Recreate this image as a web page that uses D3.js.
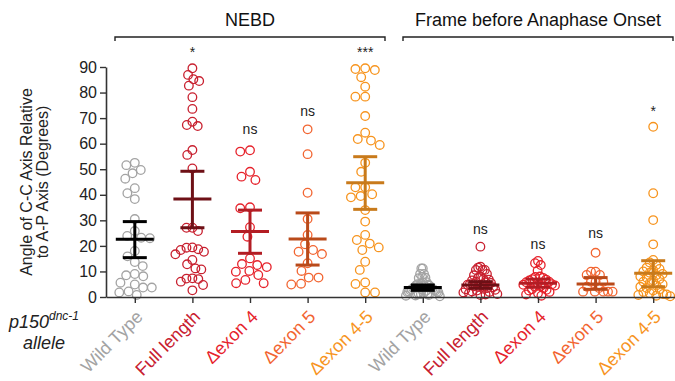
<!DOCTYPE html>
<html>
<head>
<meta charset="utf-8">
<script src="https://cdn.jsdelivr.net/npm/d3@7"></script>
<style>
  body { margin: 0; background: #fff; }
  svg { display: block; font-family: "Liberation Sans", Arial, sans-serif; }
</style>
</head>
<body>
<div id="chart"></div>
<script>
// categories
const phases = ['NEBD', 'Frame before Anaphase Onset'];
const alleles = ['Wild Type', 'Full length', '\u0394exon 4', '\u0394exon 5', '\u0394exon 4-5'];
const yTicks = [0, 10, 20, 30, 40, 50, 60, 70, 80, 90];

// angle values (degrees)
const nebdWT = [51.6, 52.5, 49.7, 48.4, 46.3, 42.6, 40.6, 38.3, 30.5, 23.9, 23, 23.2, 25.8,
  18, 15.9, 13.7, 12.1, 8.5, 8.1, 9, 5.6, 4.9, 3.7, 3.7, 2.2, 1.8, 0.8];
const nebdFL = [89.5, 85.2, 86.9, 84.5, 82.7, 78.2, 73.6, 67.3, 66.9, 68.6, 55.6, 57.5, 50.3,
  27.1, 27.1, 25.8, 18.7, 19.4, 17.7, 19.3, 18.4, 16.7, 14.5, 12.8, 11.2, 10.8, 6, 7.2, 7,
  7.3, 4.7, 2.6];
const nebdE4 = [56.9, 57.4, 47.1, 45.8, 49, 35.1, 34.7, 27.3, 23.6, 15.1, 12.5, 10.2, 9.9,
  11.7, 12.9, 8.6, 6.7, 5.4, 5.4];
const nebdE5 = [65.6, 55.9, 40.8, 30.5, 24.3, 20.6, 18.4, 17.7, 16.8, 13.2, 10.2, 7.6, 7.6,
  4.9, 5.2];
const nebdE45 = [89.5, 88.8, 86, 89.2, 82.3, 78.4, 78.4, 70.8, 64.3, 61.2, 59.5, 61.8, 52.5,
  49, 42.9, 42.9, 40.2, 39, 39.5, 34, 29.5, 24.3, 22.3, 20.9, 18.4, 19.4, 13.8, 10.6, 5.1,
  5.7, 1.8, 1.8];

const anaWT = [11.2, 11.2, 9, 9, 7.8, 7.6, 7.4, 5.8, 5.5, 5.2, 5, 4.8, 4.6, 4.4, 4.2, 4,
  3.8, 3.6, 3.4, 3.2, 3, 2.9, 2.8, 2.6, 2.5, 2.4, 2.2, 2.1, 2, 1.8, 1.6, 1.5, 1.2, 1.1, 1,
  0.8, 0.6, 0.5, 0.3];
const anaFL = [19.7, 11.9, 11.5, 10.6, 10.6, 10.6, 9, 8.5, 8, 7.5, 7, 6.8, 6.5, 6, 5.8, 5.5,
  5, 4.8, 4.5, 4.2, 4, 3.8, 3.5, 3.2, 3, 2.8, 2.5, 2.2, 2, 1.8, 1.5, 1.2, 1, 0.8];
const anaE4 = [14.1, 13.2, 12.5, 10.3, 8, 7.8, 7.5, 7, 6.8, 6.5, 6, 5.8, 5.5, 5, 4.8, 4.5,
  4.2, 4, 3.5, 3, 2.8, 2.5, 2, 1.5, 1, 0.5];
const anaE5 = [17.3, 9.9, 9.9, 8.6, 8.6, 6, 6, 6, 4, 3.5, 2.1, 2.1, 2.1, 2.1, 2.1];
const anaE45 = [66.6, 40.6, 30.1, 20.6, 14.5, 13.5, 12.5, 11.5, 11, 10.5, 10, 9.5, 9, 8.5,
  8, 7.5, 7, 6.5, 6, 5.5, 5, 4.5, 4, 3.5, 3, 2.5, 2, 1.5, 1.2, 1, 0.8, 0.5, 0.3];

// mean and 95% CI as drawn
const means = [22.6, 38.3, 25.6, 22.7, 44.7, 3.7, 4.7, 5.4, 5.1, 9.3];
const ciLow = [15.4, 27.1, 17.1, 12.5, 34.3, 2.6, 3.4, 3.8, 3.0, 4.0];
const ciHigh = [29.5, 49.2, 34.0, 32.9, 54.9, 4.7, 6.0, 7.0, 7.6, 14.2];

// significance marks and the height (degrees) they sit at
const sigText = ['', '*', 'ns', 'ns', '***', '', 'ns', 'ns', 'ns', '*'];
const sigAt = [0, 93.9, 63.8, 70.8, 93.9, 0, 24.6, 18.8, 23.1, 70.8];

const values = [nebdWT, nebdFL, nebdE4, nebdE5, nebdE45, anaWT, anaFL, anaE4, anaE5, anaE45];

const pointColors = ['#a3a3a3', '#c8202f', '#e6222b', '#f26531', '#f7941e'];
const barColors = ['#000000', '#6e1016', '#b31d24', '#b94a1a', '#c87a1b'];

const width = 675;
const height = 381;
const R = 4.3;

const groups = [];
phases.forEach((p, pi) => alleles.forEach((a, ai) => {
  groups.push({ key: pi + ':' + a, phase: pi, allele: ai, label: a });
}));

const svg = d3.select('#chart')
  .append('svg')
  .attr('width', width)
  .attr('height', height);

const x = d3.scalePoint()
  .domain(groups.map(g => g.key))
  .range([106, 682])
  .padding(0.5);

const y = d3.scaleLinear()
  .domain([0, 90])
  .range([297, 67]);

// simple beeswarm, squeezed when it gets too wide
function swarm(vals, maxHalf) {
  const pts = vals.map((v, i) => ({ i, py: y(v), dx: 0 }))
    .sort((a, b) => a.py - b.py);
  const placed = [];
  const d = 2 * R + 1.2;
  pts.forEach(p => {
    const near = placed.filter(q => Math.abs(q.py - p.py) < d);
    const cands = [0];
    near.forEach(q => {
      const off = Math.sqrt(d * d - (q.py - p.py) ** 2);
      cands.push(q.dx - off, q.dx + off);
    });
    cands.sort((a, b) => Math.abs(a) - Math.abs(b));
    p.dx = cands.find(c => near.every(q =>
      (q.dx - c) ** 2 + (q.py - p.py) ** 2 >= d * d - 0.01));
    placed.push(p);
  });
  const ext = d3.max(pts, p => Math.abs(p.dx));
  const k = ext > maxHalf ? maxHalf / ext : 1;
  pts.forEach(p => { p.dx *= k; });
  return pts.sort((a, b) => a.i - b.i).map(p => p.dx);
}

// points
groups.forEach((g, gi) => {
  const offs = swarm(values[gi], 17);
  svg.append('g')
    .attr('fill', 'none')
    .attr('stroke', pointColors[g.allele])
    .attr('stroke-width', 1.3)
    .selectAll('circle')
    .data(values[gi])
    .enter().append('circle')
      .attr('cx', (v, i) => x(g.key) + offs[i])
      .attr('cy', v => y(v))
      .attr('r', R);
});

// mean and CI
const bars = svg.append('g').attr('stroke-width', 3);
groups.forEach((g, gi) => {
  const cx = x(g.key);
  const c = barColors[g.allele];
  bars.append('line')
    .attr('x1', cx).attr('x2', cx)
    .attr('y1', y(ciLow[gi])).attr('y2', y(ciHigh[gi]))
    .attr('stroke', c);
  [ciLow[gi], ciHigh[gi]].forEach(v => {
    bars.append('line')
      .attr('x1', cx - 12).attr('x2', cx + 12)
      .attr('y1', y(v)).attr('y2', y(v))
      .attr('stroke', c);
  });
  bars.append('line')
    .attr('x1', cx - 19).attr('x2', cx + 19)
    .attr('y1', y(means[gi])).attr('y2', y(means[gi]))
    .attr('stroke', c);
});

// axes
const yAxis = svg.append('g')
  .attr('transform', 'translate(106,0)')
  .call(d3.axisLeft(y).tickValues(yTicks).tickSize(6).tickPadding(3).tickSizeOuter(0));
const xAxis = svg.append('g')
  .attr('transform', 'translate(0,297)')
  .call(d3.axisBottom(x).tickSize(6).tickSizeOuter(0).tickFormat(''));

[yAxis, xAxis].forEach(a => {
  a.select('.domain').attr('stroke', '#333').attr('stroke-width', 1.6);
  a.selectAll('.tick line').attr('stroke', '#333').attr('stroke-width', 1.4);
});
yAxis.selectAll('.tick text')
  .attr('font-size', 16)
  .attr('font-family', '"Liberation Sans", Arial, sans-serif')
  .attr('fill', '#222');

// y title
const yTitle = svg.append('text')
  .attr('transform', 'translate(32,182) rotate(-90)')
  .attr('text-anchor', 'middle')
  .attr('font-size', 16)
  .attr('fill', '#222');
yTitle.append('tspan').attr('x', 0).attr('y', 0).text('Angle of C-C Axis Relative');
yTitle.append('tspan').attr('x', 0).attr('y', 16).text('to A-P Axis (Degrees)');

// category labels
svg.append('g')
  .selectAll('text')
  .data(groups)
  .enter().append('text')
    .attr('transform', g => `translate(${x(g.key) + 9},318) rotate(-45)`)
    .attr('text-anchor', 'end')
    .attr('font-size', 18)
    .attr('fill', g => pointColors[g.allele])
    .text(g => g.label);

// allele caption
const cap = svg.append('text')
  .attr('text-anchor', 'middle')
  .attr('font-size', 18)
  .attr('font-style', 'italic')
  .attr('fill', '#222');
cap.append('tspan').attr('x', 44).attr('y', 328).text('p150');
cap.append('tspan').attr('font-size', 12).attr('dy', -8).text('dnc-1');
cap.append('tspan').attr('x', 44).attr('y', 349).text('allele');

// phase brackets
phases.forEach((p, pi) => {
  const ks = groups.filter(g => g.phase === pi).map(g => x(g.key));
  const mid = (ks[0] + ks[ks.length - 1]) / 2;
  svg.append('path')
    .attr('d', `M${mid - 135},41V37H${mid + 135}V41`)
    .attr('fill', 'none')
    .attr('stroke', '#222')
    .attr('stroke-width', 1.4);
  svg.append('text')
    .attr('x', mid)
    .attr('y', 26)
    .attr('text-anchor', 'middle')
    .attr('font-size', 18)
    .attr('fill', '#111')
    .text(p);
});

// significance
svg.append('g')
  .selectAll('text')
  .data(groups.filter((g, i) => sigText[i]))
  .enter().append('text')
    .attr('x', g => x(g.key))
    .attr('y', g => y(sigAt[groups.indexOf(g)]))
    .attr('text-anchor', 'middle')
    .attr('font-size', 14)
    .attr('fill', '#222')
    .text(g => sigText[groups.indexOf(g)]);
</script>
</body>
</html>
